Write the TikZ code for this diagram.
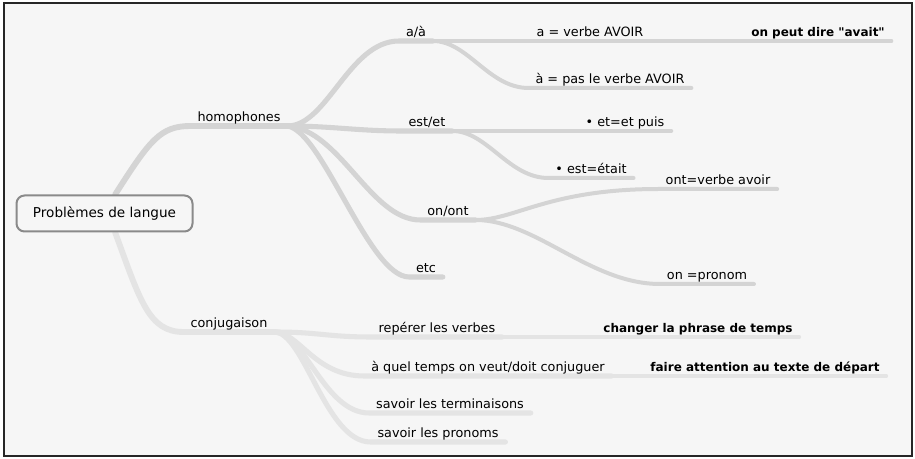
\documentclass[tikz,border=0pt]{standalone}
\usepackage{fontspec}
\setmainfont{DejaVu Sans}[Ligatures=TeXOff]
\usepackage{xcolor}
\usetikzlibrary{backgrounds}
\definecolor{mapbg}{HTML}{F6F6F6}
\definecolor{homline}{HTML}{D4D4D4}
\definecolor{conjline}{HTML}{E4E4E4}
\definecolor{rootframe}{HTML}{8A8A8A}
\tikzset{
  map text/.style={
    anchor=south, text depth=0pt,
    inner xsep=5pt, inner ysep=3pt,
    font=\fontsize{9.6}{11}\selectfont
  },
  topic/.style={map text},
  strong topic/.style={
    map text, font=\fontsize{9}{11}\selectfont\bfseries
  },
  root box/.style={
    draw=rootframe, line width=1.5pt, rounded corners=6pt,
    fill=mapbg, minimum width=132pt, minimum height=27pt,
    font=\fontsize{10.2}{12}\selectfont
  },
  branch/.style={draw=homline, line width=3.8pt, line cap=round},
  twig/.style={draw=homline, line width=3pt, line cap=round},
  leaf/.style={draw=homline, line width=2.4pt, line cap=round},
  conj branch/.style={branch, draw=conjline},
  conj twig/.style={twig, draw=conjline},
  conj leaf/.style={leaf, draw=conjline},
}

\begin{document}
\begin{tikzpicture}[x=0.75pt, y=-0.75pt]

  \useasboundingbox (0,0) rectangle (915,459);

  % root and main topics
  \node[root box] (root) at (104.5,213.5) {Problèmes de langue};
  \node[topic] (homo) at (239,126) {homophones};
  \node[topic] (conj) at (229,332) {conjugaison};

  % homophones
  \node[topic] (aa) at (416,41) {a/à};
  \node[topic] (estet) at (427,131) {est/et};
  \node[topic] (onont) at (448,220) {on/ont};
  \node[topic] (etc) at (426,277) {etc};

  \node[topic] (averbe) at (590,41) {a = verbe AVOIR};
  \node[strong topic] (avait) at (818,41) {on peut dire "avait"};
  \node[topic] (apas) at (610,88) {à = pas le verbe AVOIR};
  \node[topic] (etpuis) at (625,131) {• et=et puis};
  \node[topic] (etait) at (591,178) {• est=était};
  \node[topic] (ontverbe) at (718,189) {ont=verbe avoir};
  \node[topic] (onpronom) at (707,284) {on =pronom};

  % conjugaison
  \node[topic] (reperer) at (437,337) {repérer les verbes};
  \node[strong topic] (changer) at (698,337) {changer la phrase de temps};
  \node[topic] (quel) at (488,376) {à quel temps on veut/doit conjuguer};
  \node[strong topic] (depart) at (765,376) {faire attention au texte de départ};
  \node[topic] (termin) at (450,413) {savoir les terminaisons};
  \node[topic] (pronoms) at (438,442) {savoir les pronoms};

  \begin{scope}[on background layer]
    \draw[line width=1.6pt, draw=black!85, fill=mapbg] (4,3) rectangle (912,456);

    % from the root
    \draw[branch, line width=4.4pt] ([xshift=8pt]root.north)
      .. controls +(35,-55) and +(-30,0) .. (homo.south west) -- (homo.south east);
    \draw[conj branch, line width=4.4pt] ([xshift=8pt]root.south)
      .. controls +(25,68) and +(-35,0) .. (conj.south west) -- (conj.south east);

    % homophones
    \draw[branch] (homo.south east)
      .. controls +(40,0) and +(-50,0) .. (aa.south west) -- (aa.south east);
    \draw[branch] (homo.south east)
      .. controls +(45,0) and +(-45,0) .. (estet.south west) -- (estet.south east);
    \draw[branch] (homo.south east)
      .. controls +(53,4) and +(-50,0) .. (onont.south west) -- (onont.south east);
    \draw[branch] (homo.south east)
      .. controls +(35,5) and +(-40,0) .. (etc.south west) -- (etc.south east);

    \draw[twig] (aa.south east) -- (averbe.south west) -- (averbe.south east);
    \draw[leaf] (averbe.south east) -- (avait.south west) -- (avait.south east);
    \draw[twig] (aa.south east)
      .. controls +(35,0) and +(-40,0) .. (apas.south west) -- (apas.south east);
    \draw[twig] (estet.south east) -- (etpuis.south west) -- (etpuis.south east);
    \draw[twig] (estet.south east)
      .. controls +(35,0) and +(-40,0) .. (etait.south west) -- (etait.south east);
    \draw[twig] (onont.south east)
      .. controls +(40,0) and +(-110,0) .. (ontverbe.south west) -- (ontverbe.south east);
    \draw[twig] (onont.south east)
      .. controls +(60,0) and +(-70,0) .. (onpronom.south west) -- (onpronom.south east);

    % conjugaison
    \draw[conj branch] (conj.south east)
      .. controls +(45,0) and +(-45,0) .. (reperer.south west) -- (reperer.south east);
    \draw[conj branch] (conj.south east)
      .. controls +(25,0) and +(-50,0) .. (quel.south west) -- (quel.south east);
    \draw[conj branch] (conj.south east)
      .. controls +(30,0) and +(-45,0) .. (termin.south west) -- (termin.south east);
    \draw[conj branch] (conj.south east)
      .. controls +(30,0) and +(-45,0) .. (pronoms.south west) -- (pronoms.south east);

    \draw[conj leaf] (reperer.south east) -- (changer.south west) -- (changer.south east);
    \draw[conj leaf] (quel.south east) -- (depart.south west) -- (depart.south east);
  \end{scope}

\end{tikzpicture}
\end{document}
